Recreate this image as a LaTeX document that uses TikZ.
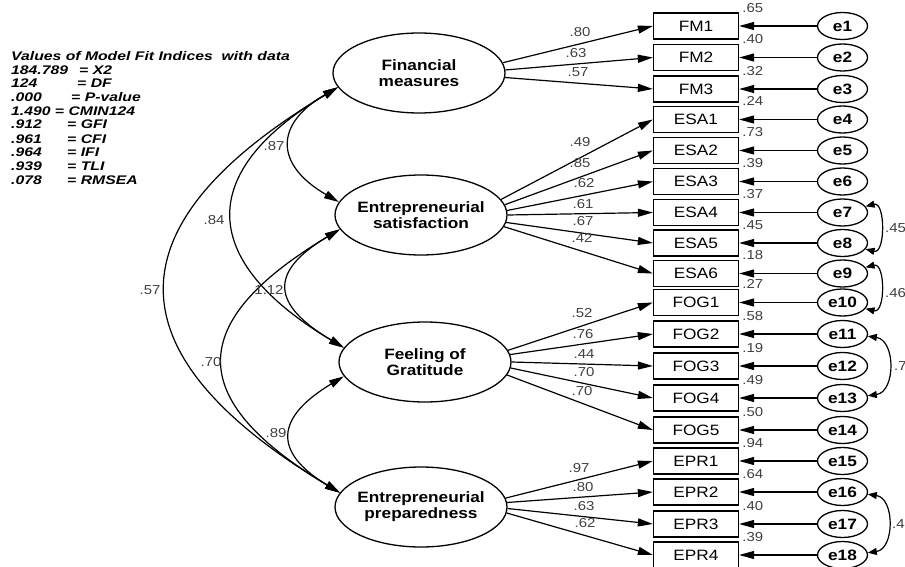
\documentclass[tikz,border=0pt]{standalone}
\usepackage{fontspec}
\setmainfont{Liberation Sans}[FakeStretch=1.15]
\newfontfamily\fitfont{Liberation Sans}[FakeStretch=1.26]
\usetikzlibrary{arrows.meta,shapes.geometric}
\newcommand{\myfs}[2]{\fontsize{#1}{#2}\selectfont}
\begin{document}
\begin{tikzpicture}[x=1pt,y=-1pt,
 lat/.style={ellipse,draw,line width=1.3pt,minimum width=172pt,minimum height=80pt,inner xsep=-10pt,inner ysep=0pt,align=center,font=\bfseries\myfs{15}{16}},
 obs/.style={rectangle,draw,line width=1.3pt,minimum width=85pt,minimum height=26pt,inner sep=0pt,font=\myfs{15}{16}},
 err/.style={ellipse,draw,line width=1.3pt,minimum width=50pt,minimum height=27pt,inner xsep=-4pt,inner ysep=0pt,font=\bfseries\myfs{15}{16}},
 arr/.style={line width=1.2pt,-{Triangle[length=15pt,width=8pt]}},
 cov/.style={line width=1.2pt,{Triangle[length=15pt,width=8pt]}-{Triangle[length=15pt,width=8pt]}},
 rcov/.style={line width=1.2pt,{Triangle[length=9pt,width=7pt]}-{Triangle[length=9pt,width=7pt]}},
 num/.style={text=black!75,font=\myfs{13}{14},inner sep=0pt},
 fitx/.style={font=\fitfont\bfseries\itshape\myfs{12.5}{13},inner sep=0pt,anchor=base west}]
\useasboundingbox (0,0) rectangle (905,567);

% fit indices
\node[fitx] (t0) at (11,61) {Values of Model Fit Indices\ \ with data};
\node[fitx] (t1a) at (11,75) {184.789}; \node[fitx] (t1b) at (79,75) {= X2};
\node[fitx] (t2a) at (11,88) {124}; \node[fitx] (t2b) at (77,88) {= DF};
\node[fitx] (t3a) at (11,102) {.000}; \node[fitx] (t3b) at (71,102) {= P-value};
\node[fitx] (t4a) at (11,116) {1.490 = CMIN124};
\node[fitx] (t5a) at (11,129) {.912}; \node[fitx] (t5b) at (67,129) {= GFI};
\node[fitx] (t6a) at (11,143) {.961}; \node[fitx] (t6b) at (67,143) {= CFI};
\node[fitx] (t7a) at (11,157) {.964}; \node[fitx] (t7b) at (67,157) {= IFI};
\node[fitx] (t8a) at (11,171) {.939}; \node[fitx] (t8b) at (67,171) {= TLI};
\node[fitx] (t9a) at (11,185) {.078}; \node[fitx] (t9b) at (67,185) {= RMSEA};

% latent variables
\node[lat] (fm) at (419,73) {Financial\\measures};
\node[lat] (es) at (421,215) {Entrepreneurial\\satisfaction};
\node[lat] (fog) at (425,362) {Feeling of\\Gratitude};
\node[lat] (epr) at (421,507) {Entrepreneurial\\preparedness};

% indicators and errors
\foreach \nm/\y/\rv/\ev in {FM1/26/.65/1,FM2/57.5/.40/2,FM3/89/.32/3,
  ESA1/119.5/.24/4,ESA2/150.5/.73/5,ESA3/181.5/.39/6,ESA4/212.5/.37/7,ESA5/243/.45/8,ESA6/273.5/.18/9,
  FOG1/302.5/.27/10,FOG2/334/.58/11,FOG3/366/.19/12,FOG4/398/.49/13,FOG5/430/.50/14,
  EPR1/461/.94/15,EPR2/492/.64/16,EPR3/524/.40/17,EPR4/555/.39/18}{
  \node[obs] (\nm) at (696,\y) {\nm};
  \node[err] (e\ev) at (842.5,\y) {e\ev};
  \node[num,anchor=south west] (r\ev) at ([xshift=3pt,yshift=0pt]\nm.north east) {\rv};
  \draw[arr] (e\ev) -- (\nm);
}

% loadings
\foreach \a/\b/\v/\x/\y in {fm.7/FM1/.80/580/32,fm.2/FM2/.63/576/53,fm.-3/FM3/.57/578/72,
  es.11/ESA1/.49/580/142,es.7/ESA2/.85/580/163,es.3/ESA3/.62/584/183,es.0/ESA4/.61/583/204,es.-5/ESA5/.67/583/221,es.-8/ESA6/.42/582/238,
  fog.8/FOG1/.52/582/313,fog.5/FOG2/.76/583/334,fog.0/FOG3/.44/584/354,fog.-4/FOG4/.70/584/372,fog.-9/FOG5/.70/582/391,
  epr.6/EPR1/.97/579/468,epr.3/EPR2/.80/583/487,epr.-1/EPR3/.63/584/506,epr.-4/EPR4/.62/585/523}{
  \draw[arr] (\a) -- (\b.west);
  \node[num] (l\b) at (\x,\y) {\v};
}

% covariances among latent variables
\draw[cov] (fm.190) .. controls +(-64,37) and +(-64,-37) .. (es.171);
\draw[cov] (fm.190) .. controls +(-144,86) and +(-144,-86) .. (fog.170);
\draw[cov] (fm.190) .. controls +(-230,138) and +(-230,-138) .. (epr.170);
\draw[cov] (es.190) .. controls +(-72,43) and +(-72,-43) .. (fog.170);
\draw[cov] (es.190) .. controls +(-155,93) and +(-155,-93) .. (epr.170);
\draw[cov] (fog.190) .. controls +(-68,41) and +(-68,-41) .. (epr.170);
\node[num] (c1) at (274,146) {.87};
\node[num] (c2) at (214,220) {.84};
\node[num] (c3) at (150,290) {.57};
\node[num] (c4) at (269,290) {1.12};
\node[num] (c5) at (211,362) {.70};
\node[num] (c6) at (276,433) {.89};

% error covariances
\draw[rcov] (e7.15) .. controls +(20,-5) and +(20,5) .. (e8.-15);
\draw[rcov] (e9.15) .. controls +(20,-5) and +(20,5) .. (e10.-15);
\draw[rcov] (e11.-5) .. controls +(28,4) and +(28,-4) .. (e13.5);
\draw[rcov] (e16.-5) .. controls +(27,4) and +(27,-4) .. (e18.5);
\node[num,anchor=west] (k1) at (885,228) {.45};
\node[num,anchor=west] (k2) at (885,293) {.46};
\node[num,anchor=west] (k3) at (894,366) {.7};
\node[num,anchor=west] (k4) at (892,524) {.47};
\end{tikzpicture}
\end{document}
